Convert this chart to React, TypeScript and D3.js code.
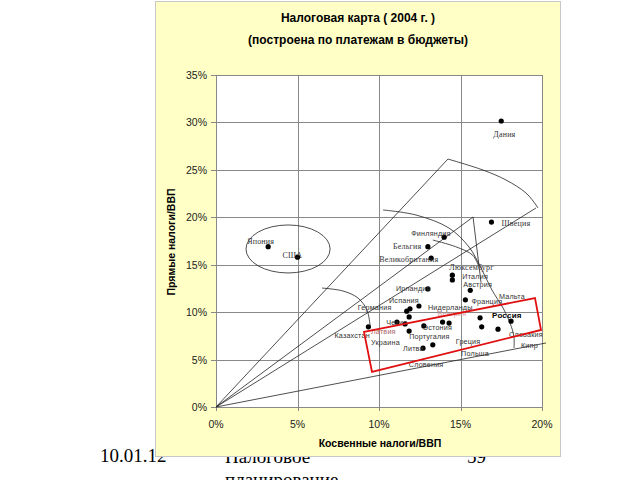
import React from "react";
import * as d3 from "d3";

// ---- data (percent of GDP) ----
const countries = [
  "Дания", "Швеция", "Финляндия", "Бельгия", "Великобритания", "Япония", "США",
  "Люксембург", "Италия", "Австрия", "Ирландия", "Франция", "Нидерланды", "Испания",
  "Германия", "Чехия", "Латвия", "Украина", "Казахстан", "Португалия", "Эстония",
  "Венгрия", "Польша", "Литва", "Словения", "Россия", "Греция", "Кипр", "Словакия",
];
const indirectTax = [
  17.5, 16.9, 14.0, 13.0, 13.2, 3.2, 5.0,
  14.5, 14.5, 15.6, 13.0, 15.3, 12.45, 11.9,
  11.7, 11.85, 11.1, 11.6, 9.35, 11.85, 12.75,
  13.9, 14.3, 12.7, 13.3, 16.2, 16.3, 17.3, 18.1,
];
const directTax = [
  30.15, 19.5, 17.9, 16.9, 15.7, 16.9, 15.8,
  13.9, 13.4, 12.3, 12.45, 11.3, 10.65, 10.35,
  10.1, 9.5, 8.95, 8.75, 8.45, 8.0, 8.55,
  8.95, 8.85, 6.2, 6.55, 9.4, 8.45, 8.2, 9.05,
];
// extra label placed next to an existing point
const extraLabels = [{ text: "Мальта", anchor: "Словакия" }];

const xTicks = [0, 5, 10, 15, 20];
const yTicks = [0, 5, 10, 15, 20, 25, 30, 35];

// annotation shapes (in data units, %)
const rays = [
  [14.23, 26.14],
  [15.77, 20.03],
  [19.63, 20.98],
  [20.25, 6.75],
];
const outerArc = [
  [14.23, 26.14], [16.38, 24.98], [17.79, 23.93], [19.02, 22.56], [19.63, 21.3], [19.75, 20.98],
];
const bigArc = [
  [10.25, 20.77], [12.27, 20.24], [14.29, 18.87], [15.52, 16.87], [16.26, 14.65],
  [16.93, 12.33], [17.61, 10.44], [18.04, 8.86], [18.28, 7.38], [18.28, 6.22],
];
const innerLine = [[15.77, 20.03], [16.26, 13.1]];
const smallArc = [[13.3, 17.6], [14.7, 16.9], [15.75, 16.0], [16.1, 14.9]];
const germanyArc = [[6.5, 12.54], [7.79, 12.23], [8.71, 11.49], [9.26, 10.23], [9.45, 8.64]];
const redBox = [[9.08, 7.91], [19.57, 11.49], [19.94, 8.12], [9.57, 3.69]];
const usaJapanEllipse = { cx: 4.42, cy: 16.66, rx: 2.58, ry: 2.53 };

// label layout (pixel offsets from point)
const labelLayout: Record<string, { dx: number; dy: number; serif?: boolean; bold?: boolean; color?: string }> = {
  "Дания": { dx: -8, dy: 16, serif: true },
  "Швеция": { dx: 10, dy: 4, serif: true },
  "Финляндия": { dx: -33, dy: -1 },
  "Бельгия": { dx: -35, dy: 2, serif: true },
  "Великобритания": { dx: -52, dy: 4, serif: true },
  "Япония": { dx: -21, dy: -3, serif: true },
  "США": { dx: -15, dy: 1, serif: true },
  "Люксембург": { dx: -3, dy: -5, serif: true },
  "Италия": { dx: 10, dy: -1 },
  "Австрия": { dx: -7, dy: -3 },
  "Ирландия": { dx: -32, dy: 2 },
  "Франция": { dx: 6, dy: 4 },
  "Нидерланды": { dx: 9, dy: 4 },
  "Испания": { dx: -21, dy: -6 },
  "Германия": { dx: -49, dy: -1 },
  "Чехия": { dx: -23, dy: 8 },
  "Латвия": { dx: -26, dy: 12, color: "#a66" },
  "Украина": { dx: -34, dy: 21 },
  "Казахстан": { dx: -34, dy: 11 },
  "Португалия": { dx: 0, dy: 8 },
  "Эстония": { dx: -1, dy: 4 },
  "Венгрия": { dx: -5, dy: -6, color: "#c99" },
  "Польша": { dx: 12, dy: 33 },
  "Литва": { dx: -20, dy: 3 },
  "Словения": { dx: -24, dy: 22 },
  "Россия": { dx: 12, dy: 0, bold: true },
  "Греция": { dx: -26, dy: 17 },
  "Кипр": { dx: 23, dy: 19 },
  "Словакия": { dx: -2, dy: 16 },
  "Мальта": { dx: -12, dy: -22 },
};

export default function App() {
  const W = 640, H = 480;
  const x = d3.scaleLinear().domain([0, 20]).range([216, 542]);
  const y = d3.scaleLinear().domain([0, 35]).range([407, 75]);
  const [x0, x1] = x.range();
  const [y0, y1] = y.range();

  const smooth = d3.line<number[]>().x(d => x(d[0])).y(d => y(d[1])).curve(d3.curveCatmullRom.alpha(0.5));
  const straight = d3.line<number[]>().x(d => x(d[0])).y(d => y(d[1]));
  const boxPath = d3.line<number[]>().x(d => x(d[0])).y(d => y(d[1]))(redBox) + "Z";

  const sans = "'Liberation Sans', Arial, sans-serif";
  const serif = "'Liberation Serif', 'Times New Roman', serif";
  const idx = (n: string) => countries.indexOf(n);

  const labels = [
    ...countries.map((c, i) => ({ text: c, px: x(indirectTax[i]), py: y(directTax[i]) })),
    ...extraLabels.map(e => ({ text: e.text, px: x(indirectTax[idx(e.anchor)]), py: y(directTax[idx(e.anchor)]) })),
  ];

  return (
    <svg width={W} height={H} style={{ position: "absolute", left: 0, top: 0 }} xmlns="http://www.w3.org/2000/svg">
      <rect x={0} y={0} width={W} height={H} fill="#ffffff" />
      {/* slide texts behind the chart */}
      <g fontFamily={serif} fontSize={19} fill="#000">
        <text x={100} y={462}>10.01.12</text>
        <text x={225} y={463}>Налоговое</text>
        <text x={225} y={486}>планирование</text>
        <text x={467} y={463}>59</text>
      </g>
      {/* chart panel */}
      <rect x={155.5} y={1.5} width={405} height={455} fill="#ffffc6" stroke="#c8c8c8" strokeWidth={1} />
      <g fontFamily={sans} fontWeight="bold" fontSize={12} fill="#000" textAnchor="middle">
        <text x={358} y={22}>Налоговая карта ( 2004 г. )</text>
        <text x={358} y={44}>(построена по платежам в бюджеты)</text>
      </g>
      {/* plot area */}
      <rect x={x0} y={y1} width={x1 - x0} height={y0 - y1} fill="#ffffff" />
      <g stroke="#888" strokeWidth={1}>
        {xTicks.map(t => (
          <line key={"gx" + t} x1={Math.round(x(t)) + 0.5} x2={Math.round(x(t)) + 0.5} y1={y1} y2={y0 + 4} />
        ))}
        {yTicks.map(t => (
          <line key={"gy" + t} x1={x0 - 5} x2={x1} y1={Math.round(y(t)) + 0.5} y2={Math.round(y(t)) + 0.5} />
        ))}
      </g>
      <rect x={x0 + 0.5} y={y1 + 0.5} width={x1 - x0} height={y0 - y1} fill="none" stroke="#888" />
      {/* tick labels */}
      <g fontFamily={sans} fontSize={10.5} fill="#222">
        {yTicks.map(t => (
          <text key={"ly" + t} x={x0 - 9} y={y(t) + 4} textAnchor="end">{t}%</text>
        ))}
        {xTicks.map(t => (
          <text key={"lx" + t} x={x(t)} y={428} textAnchor="middle">{t}%</text>
        ))}
      </g>
      <text x={380} y={447} textAnchor="middle" fontFamily={sans} fontWeight="bold" fontSize={10.5}>Косвенные налоги/ВВП</text>
      <text transform="translate(175,242) rotate(-90)" textAnchor="middle" fontFamily={sans} fontWeight="bold" fontSize={10.5}>Прямые налоги/ВВП</text>

      {/* annotation shapes */}
      <g fill="none" stroke="#222" strokeWidth={0.8}>
        {rays.map((r, i) => (
          <path key={"r" + i} d={straight([[0, 0], r]) as string} />
        ))}
        <path d={smooth(outerArc) as string} />
        <path d={smooth(bigArc) as string} />
        <path d={straight(innerLine) as string} />
        <path d={smooth(smallArc) as string} />
        <path d={smooth(germanyArc) as string} />
        <ellipse
          cx={x(usaJapanEllipse.cx)}
          cy={y(usaJapanEllipse.cy)}
          rx={x(usaJapanEllipse.rx) - x(0)}
          ry={y(0) - y(usaJapanEllipse.ry)}
        />
      </g>

      {/* points */}
      <g fill="#000">
        {countries.map((c, i) => (
          <circle key={c} cx={x(indirectTax[i])} cy={y(directTax[i])} r={2.6} />
        ))}
      </g>

      {/* point labels */}
      <g fill="#333">
        {labels.map(l => {
          const L = labelLayout[l.text] || { dx: 4, dy: 3 };
          return (
            <text
              key={"t" + l.text}
              x={l.px + L.dx}
              y={l.py + L.dy}
              fontFamily={L.serif ? serif : sans}
              fontWeight={L.bold ? "bold" : "normal"}
              fontSize={L.bold ? 8 : L.serif ? 8 : 7.2}
              fill={L.color || (L.bold ? "#000" : "#333")}
              letterSpacing={0.2}
            >
              {l.text}
            </text>
          );
        })}
      </g>

      {/* red box */}
      <path d={boxPath} fill="none" stroke="#e01010" strokeWidth={1.8} />
    </svg>
  );
}
